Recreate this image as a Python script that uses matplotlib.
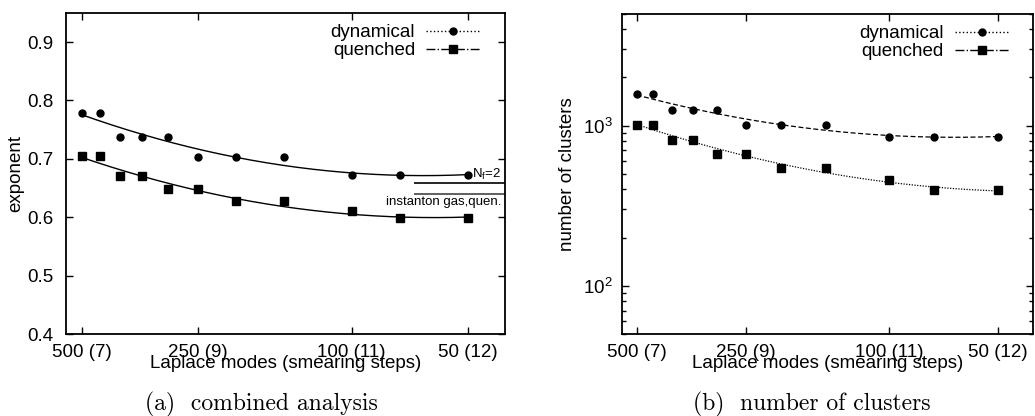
import numpy as np
import matplotlib as mpl
import matplotlib.pyplot as plt
from matplotlib.lines import Line2D
from matplotlib.ticker import FixedLocator, NullLocator, LogLocator, LogFormatterMathtext

plt.rcParams['font.family'] = ['Liberation Sans', 'DejaVu Sans']
plt.rcParams['font.size'] = 13.5
plt.rcParams['mathtext.default'] = 'regular'

# data
modes = [500, 450, 400, 350, 300, 250, 200, 150, 100, 75, 50]
tick_modes = [500, 250, 100, 50]
tick_labels = ['500 (7)', '250 (9)', '100 (11)', '50 (12)']

exp_dyn = [0.778, 0.778, 0.738, 0.738, 0.738, 0.703, 0.703, 0.703, 0.672, 0.672, 0.672]
exp_dyn_err = [0.004, 0.004, 0.004, 0.003, 0.004, 0.004, 0.003, 0.004, 0.003, 0.003, 0.003]
exp_que = [0.705, 0.705, 0.670, 0.670, 0.648, 0.648, 0.627, 0.627, 0.611, 0.598, 0.598]

clu_dyn = [1575, 1575, 1250, 1250, 1250, 1015, 1015, 1015, 850, 850, 850]
clu_que = [1010, 1010, 817, 817, 668, 668, 546, 546, 459, 394, 394]

nf2_level = 0.659
inst_level = 0.640


def fit_curve(x, y, logy=False):
    lx = np.log(x)
    yy = np.log(y) if logy else np.asarray(y)
    c = np.polyfit(lx, yy, 2)
    xs = np.linspace(lx.min(), lx.max(), 200)
    ys = np.polyval(c, xs)
    if logy:
        ys = np.exp(ys)
    return np.exp(xs), ys


def style_axes(ax, ypad):
    ax.set_xscale('log')
    ax.set_xlim(550, 40)
    ax.xaxis.set_major_locator(FixedLocator(tick_modes))
    ax.xaxis.set_minor_locator(NullLocator())
    ax.set_xticklabels(tick_labels)
    ax.tick_params(which='both', direction='in', top=True, right=True)
    ax.tick_params(which='major', length=5, width=1)
    ax.tick_params(which='minor', length=3, width=1)
    ax.tick_params(axis='x', pad=7)
    ax.tick_params(axis='y', pad=ypad)
    for s in ax.spines.values():
        s.set_linewidth(1.3)
    ax.set_xlabel('Laplace modes (smearing steps)', labelpad=-4)


def add_legend(ax):
    h1 = Line2D([], [], color='black', ls=':', lw=1, marker='o', ms=5)
    h2 = Line2D([], [], color='black', ls='-.', lw=1, marker='s', ms=6)
    ax.legend([h1, h2], ['dynamical', 'quenched'], loc='upper right', frameon=False,
              bbox_to_anchor=(0.97, 1.0), markerfirst=False, handlelength=2.9,
              borderaxespad=0.2, labelspacing=0.05, handletextpad=0.6)


fig = plt.figure(figsize=(10.35, 4.16), dpi=100)
ax1 = fig.add_axes([0.064, 0.197, 0.424, 0.772])
ax2 = fig.add_axes([0.601, 0.197, 0.397, 0.770])

# (a) exponent
ax1.errorbar(modes, exp_dyn, yerr=exp_dyn_err, fmt='o', color='black', ms=5, elinewidth=1, capsize=0)
ax1.plot(modes, exp_que, 's', color='black', ms=6)
fx, fy = fit_curve(modes, exp_dyn)
ax1.plot(fx, fy, color='black', lw=1)
fx, fy = fit_curve(modes, exp_que)
ax1.plot(fx, fy, color='black', lw=1)
ax1.hlines(nf2_level, 69, 40, color='black', lw=1.2)
ax1.hlines(inst_level, 69, 40, color='#444444', lw=1.2)
ax1.text(41, nf2_level + 0.002, '$N_f$=2', ha='right', va='bottom', fontsize=9.5)
ax1.text(41, inst_level - 0.004, 'instanton gas,quen.', ha='right', va='top', fontsize=9.5)
ax1.set_ylim(0.4, 0.95)
ax1.set_yticks([0.4, 0.5, 0.6, 0.7, 0.8, 0.9])
ax1.set_yticklabels(['0.4', '0.5', '0.6', '0.7', '0.8', '0.9'])
ax1.set_ylabel('exponent', labelpad=2)
style_axes(ax1, 9.5)
add_legend(ax1)

# (b) number of clusters
ax2.plot(modes, clu_dyn, 'o', color='black', ms=5)
ax2.plot(modes, clu_que, 's', color='black', ms=6)
fx, fy = fit_curve(modes, clu_dyn, logy=True)
ax2.plot(fx, fy, color='black', lw=0.9, ls=(0, (4, 2)))
fx, fy = fit_curve(modes, clu_que, logy=True)
ax2.plot(fx, fy, color='black', lw=0.9, ls=(0, (1, 1.2)))
ax2.set_yscale('log')
ax2.set_ylim(50, 5000)
ax2.yaxis.set_major_locator(LogLocator(base=10, numticks=10))
ax2.yaxis.set_major_formatter(LogFormatterMathtext())
ax2.yaxis.set_minor_locator(LogLocator(base=10, subs=np.arange(2, 10), numticks=20))
ax2.yaxis.set_minor_formatter(mpl.ticker.NullFormatter())
ax2.set_ylabel('number of clusters', labelpad=5)
style_axes(ax2, 7)
add_legend(ax2)

fig.text(0.253, 0.027, '(a)  combined analysis', ha='center', va='center', fontsize=17, family='cmr10')
fig.text(0.784, 0.027, '(b)  number of clusters', ha='center', va='center', fontsize=17, family='cmr10')

fig.savefig('out.png', dpi=100)
